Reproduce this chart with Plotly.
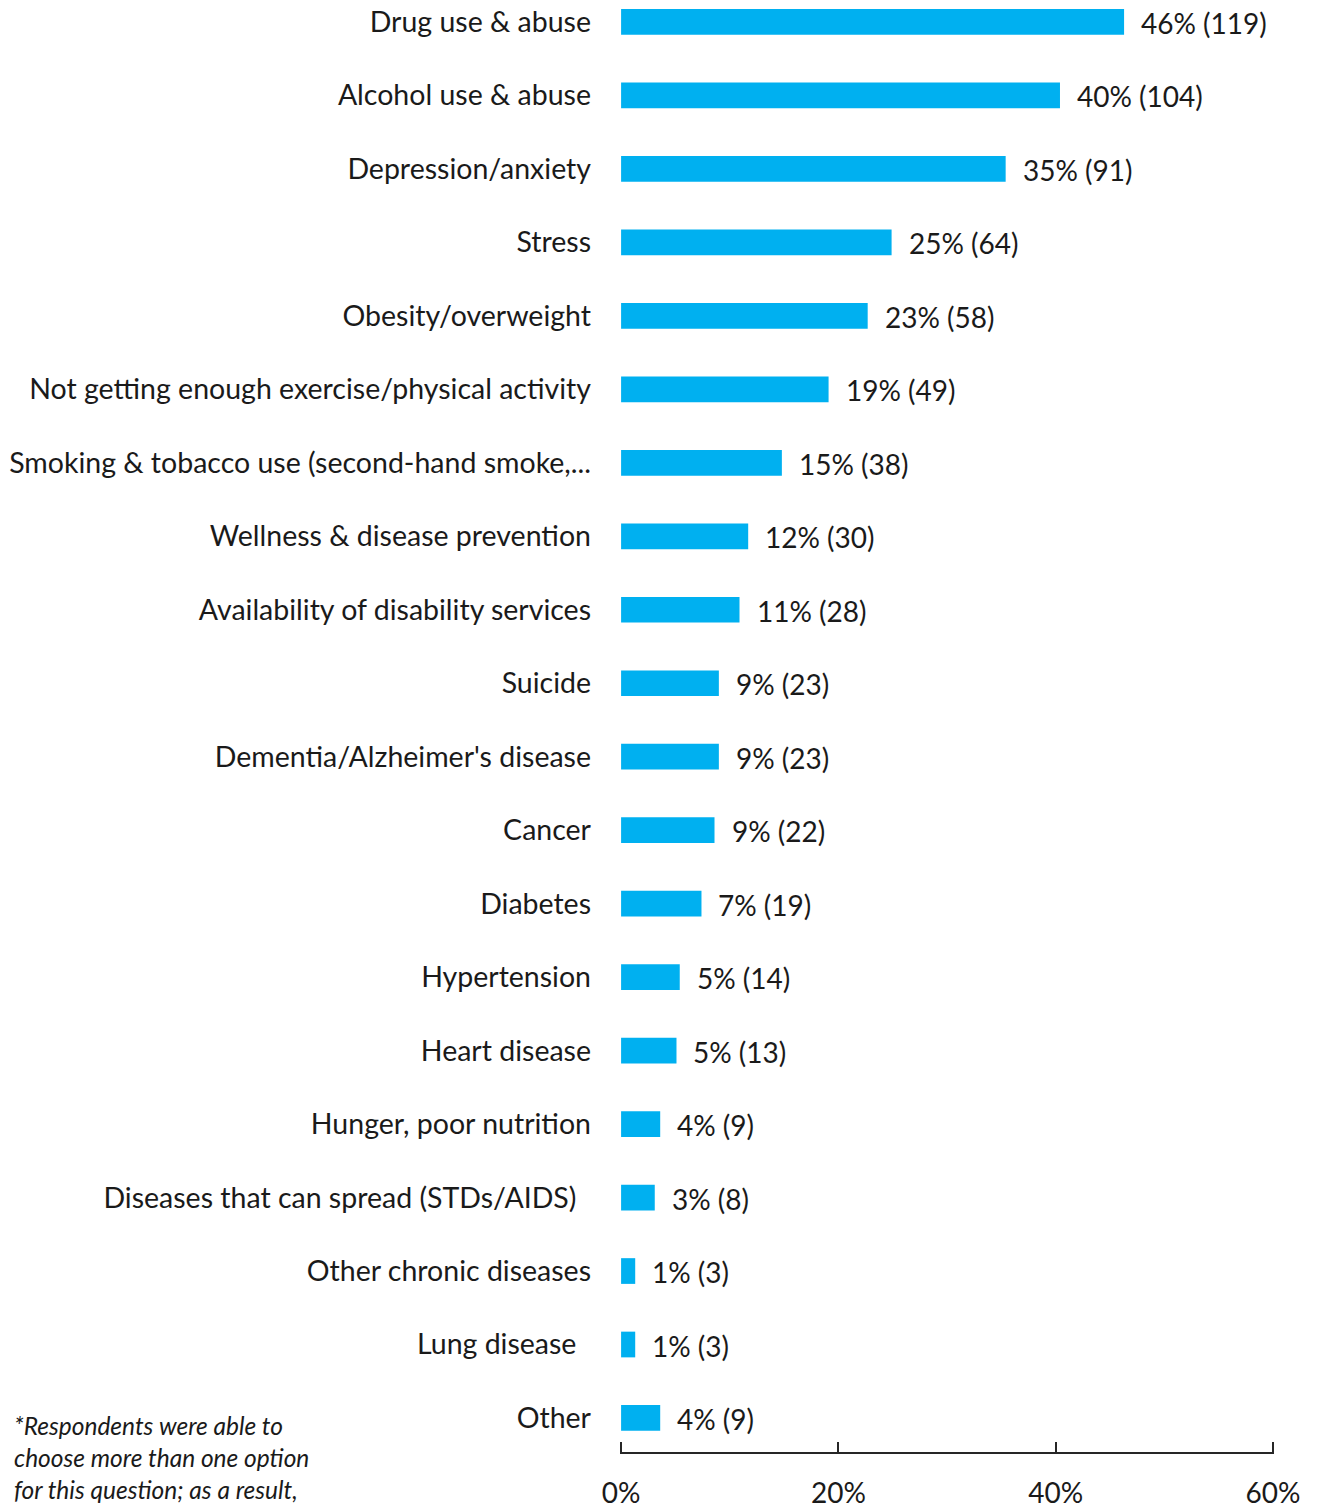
import plotly.graph_objects as go

# Health issues ranked by share of respondents (count in parentheses)
categories = [
    "Drug use & abuse",
    "Alcohol use & abuse",
    "Depression/anxiety",
    "Stress",
    "Obesity/overweight",
    "Not getting enough exercise/physical activity",
    "Smoking & tobacco use (second-hand smoke,...",
    "Wellness & disease prevention",
    "Availability of disability services",
    "Suicide",
    "Dementia/Alzheimer's disease",
    "Cancer",
    "Diabetes",
    "Hypertension",
    "Heart disease",
    "Hunger, poor nutrition",
    "Diseases that can spread (STDs/AIDS)\u00a0\u00a0",
    "Other chronic diseases",
    "Lung disease\u00a0\u00a0",
    "Other",
]
percent = [46.3, 40.4, 35.4, 24.9, 22.7, 19.1, 14.8, 11.7, 10.9, 9.0,
           9.0, 8.6, 7.4, 5.4, 5.1, 3.6, 3.1, 1.3, 1.3, 3.6]
counts = [119, 104, 91, 64, 58, 49, 38, 30, 28, 23,
          23, 22, 19, 14, 13, 9, 8, 3, 3, 9]
x_ticks = [0, 20, 40, 60]
x_tick_labels = ["0%", "20%", "40%", "60%"]

FONT = "Lato, 'Open Sans', sans-serif"
TEXT_COLOR = "#1a1a1a"
BAR_COLOR = "#00B0F0"
FONT_SIZE = 28
CAT_FONT_SIZE = 28.5

W, H = 1317, 1508
M_L, M_R, M_T, M_B = 620, 43, 0, 56
plot_w = W - M_L - M_R
plot_h = H - M_T - M_B

fig = go.Figure(
    go.Bar(
        x=percent,
        y=categories,
        orientation="h",
        marker=dict(color=BAR_COLOR, line=dict(width=0)),
        width=0.35,
        hoverinfo="skip",
    )
)

# Value labels to the right of each bar
for cat, p, n in zip(categories, percent, counts):
    fig.add_annotation(
        x=p, y=cat, xref="x", yref="y",
        text=f"{round(p)}% ({n})",
        showarrow=False, xanchor="left", yanchor="middle",
        xshift=15, yshift=-1,
        font=dict(family=FONT, size=FONT_SIZE, color=TEXT_COLOR),
    )

# Footnote in the lower-left corner
fig.add_annotation(
    x=(12 - M_L) / plot_w, y=(plot_h - 1409) / plot_h,
    xref="paper", yref="paper",
    text="<i>*Respondents were able to<br>choose more than one option<br>for this question; as a result,</i>",
    showarrow=False, xanchor="left", yanchor="top", align="left",
    font=dict(family=FONT, size=24.5, color=TEXT_COLOR),
)

n = len(categories)
fig.update_layout(
    width=W, height=H,
    margin=dict(l=M_L, r=M_R, t=M_T, b=M_B, pad=0, autoexpand=False),
    paper_bgcolor="white", plot_bgcolor="white",
    showlegend=False,
    font=dict(family=FONT, size=FONT_SIZE, color=TEXT_COLOR),
)
fig.update_xaxes(
    range=[-0.1, 60.1],
    tickvals=x_ticks, ticktext=x_tick_labels,
    showgrid=False, zeroline=False,
    showline=True, linecolor="#262626", linewidth=2,
    ticks="inside", ticklen=10, tickwidth=2, tickcolor="#262626",
    ticklabelstandoff=15,
    tickfont=dict(family=FONT, size=FONT_SIZE, color=TEXT_COLOR),
    automargin=False,
    fixedrange=True,
)
fig.update_yaxes(
    type="category",
    categoryorder="array", categoryarray=categories,
    range=[n - 1 + 0.463, -0.299],
    showgrid=False, zeroline=False, showline=False,
    ticks="", ticklabelstandoff=28,
    tickfont=dict(family=FONT, size=CAT_FONT_SIZE, color=TEXT_COLOR),
    automargin=False,
    fixedrange=True,
)

fig.write_html("out.html")
